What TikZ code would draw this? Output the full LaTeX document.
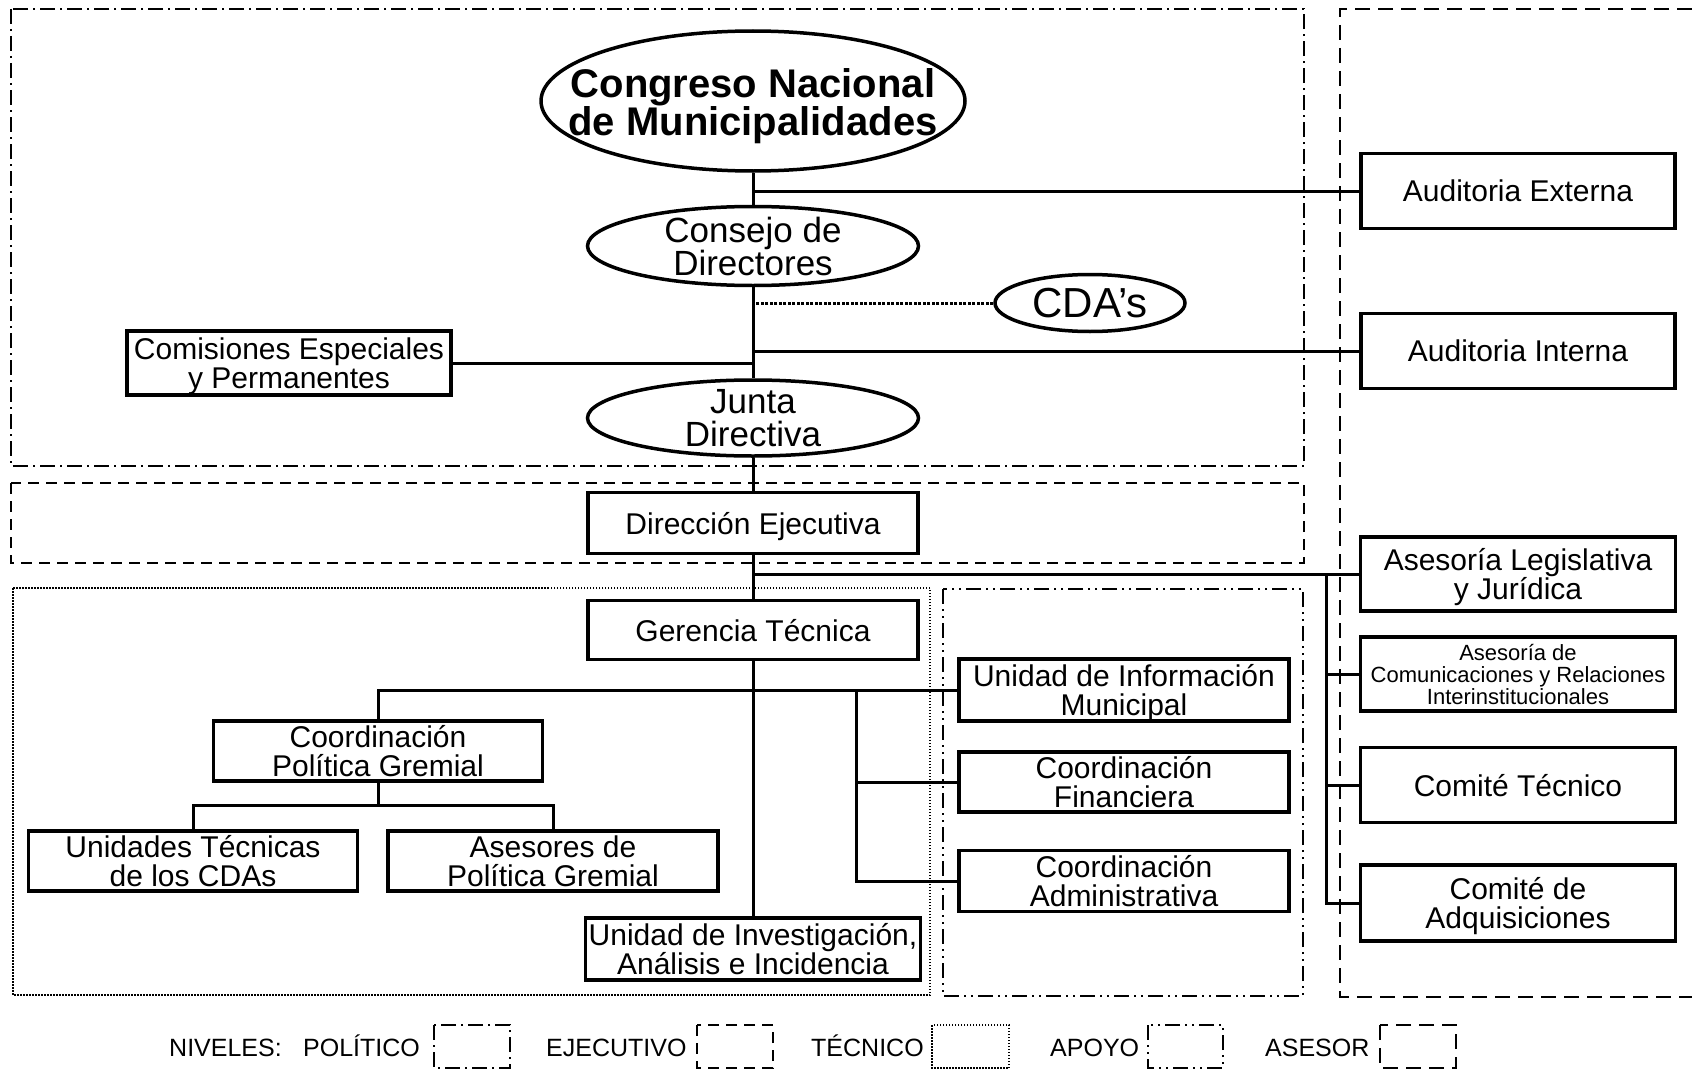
\documentclass[tikz,border=0pt]{standalone}
\usepackage{fontspec}
\setmainfont{Liberation Sans}
\usetikzlibrary{shapes.geometric}
\begin{document}
\begin{tikzpicture}[x=1pt,y=-1pt,
  obox/.style={draw, line width=3.5pt, rectangle, minimum width=330pt, minimum height=61pt, inner sep=0pt, align=center, text depth=0pt, font=\fontsize{30}{29}\selectfont},
  ell/.style={draw, line width=3.5pt, ellipse, inner sep=0pt},
  etext/.style={align=center, inner sep=0pt, font=\fontsize{35}{33}\selectfont},
  conn/.style={line width=3pt},
  polit/.style={line width=2pt, dash pattern=on 15pt off 5pt on 2pt off 5pt},
  ejec/.style={line width=2pt, dash pattern=on 11pt off 7pt},
  tecn/.style={line width=1.5pt, dash pattern=on 1.5pt off 1.5pt},
  apoy/.style={line width=2pt, dash pattern=on 15pt off 5pt on 2pt off 5pt on 2pt off 5pt},
  ases/.style={line width=2pt, dash pattern=on 15pt off 8pt},
  leg/.style={anchor=base west, inner sep=0pt, font=\fontsize{25}{25}\selectfont},
]
\useasboundingbox[fill=white] (0,0) rectangle (1692,1073);

% level regions
\draw[polit] (11,9) rectangle (1304,466);
\draw[ejec] (11,483) rectangle (1304,563);
\draw[tecn] (13,588) rectangle (930,995);
\draw[apoy] (943,589) rectangle (1303,996);
\draw[ases] (1692,9) -- (1340,9) -- (1340,997) -- (1692,997);

% ellipses
\node[ell, minimum width=424pt, minimum height=140pt] (cong) at (753,101) {};
\node[etext, font=\bfseries\fontsize{40}{38}\selectfont, yshift=-5pt] (congT) at (cong) {Congreso Nacional\\de Municipalidades};
\node[ell, minimum width=331pt, minimum height=79pt] (cons) at (753,246) {};
\node[etext] (consT) at (cons) {Consejo de\\Directores};
\node[ell, minimum width=190pt, minimum height=57pt] (cda) at (1090,303) {};
\node[etext, font=\fontsize{42}{42}\selectfont] (cdaT) at (cda) {CDA’s};
\node[ell, minimum width=331pt, minimum height=76pt] (junta) at (753,418) {};
\node[etext] (juntaT) at (junta) {Junta\\Directiva};

% boxes
\node[obox, minimum width=324pt, minimum height=64pt] (com) at (289,363) {Comisiones Especiales\\y Permanentes};
\node[obox, minimum width=314pt, minimum height=75pt] (audext) at (1518,191) {Auditoria Externa};
\node[obox, minimum width=314pt, minimum height=75pt] (audint) at (1518,351) {Auditoria Interna};
\node[obox] (dir) at (753,523) {Dirección Ejecutiva};
\node[obox, minimum height=59pt] (ger) at (753,630) {Gerencia Técnica};
\node[obox, minimum height=62pt] (uim) at (1124,690) {Unidad de Información\\Municipal};
\node[obox, minimum height=60pt] (cfin) at (1124,782) {Coordinación\\Financiera};
\node[obox] (cadm) at (1124,881) {Coordinación\\Administrativa};
\node[obox, minimum width=329pt, minimum height=60pt] (cpg) at (378,751) {Coordinación\\Política Gremial};
\node[obox, minimum width=329pt, minimum height=60pt] (utc) at (193,861) {Unidades Técnicas\\de los CDAs};
\node[obox, minimum height=60pt] (apg) at (553,861) {Asesores de\\Política Gremial};
\node[obox, minimum width=335pt, minimum height=62pt] (inv) at (753,949) {Unidad de Investigación,\\Análisis e Incidencia};
\node[obox, minimum width=315pt, minimum height=74pt] (asleg) at (1518,574) {Asesoría Legislativa\\y Jurídica};
\node[obox, minimum width=315pt, minimum height=74pt, font=\fontsize{22}{22}\selectfont] (ascom) at (1518,674) {Asesoría de\\Comunicaciones y Relaciones\\Interinstitucionales};
\node[obox, minimum width=315pt, minimum height=75pt] (ctec) at (1518,785) {Comité Técnico};
\node[obox, minimum width=315pt, minimum height=76pt] (cadq) at (1518,903) {Comité de\\Adquisiciones};

% trunk
\draw[conn] (cong.south) -- (cons.north);
\draw[conn] (cons.south) -- (junta.north);
\draw[conn] (junta.south) -- (dir.north);
\draw[conn] (dir.south) -- (ger.north);
\draw[conn] (ger.south) -- (inv.north);

% branches from trunk
\draw[conn] (audext.west) -- (audext.west -| cong.south);
\draw[conn] (audint.west) -- (audint.west -| cong.south);
\draw[conn] (com.east) -- (com.east -| cong.south);
\draw[line width=3pt, dash pattern=on 3pt off 1.5pt] (cda.west) -- (cda.west -| cong.south);

% asesor bus
\draw[conn] (asleg.west) -- (asleg.west -| dir.south);
\coordinate (busA) at (1326,574);
\draw[conn] (busA) |- (cadq.west);
\draw[conn] (ascom.west) -- (ascom.west -| busA);
\draw[conn] (ctec.west) -- (ctec.west -| busA);

% technical bus
\draw[conn] (uim.west) -- (uim.west -| cpg.north) -- (cpg.north);
\coordinate (busT) at (856,690);
\draw[conn] (busT) |- (cadm.west);
\draw[conn] (cfin.west) -- (cfin.west -| busT);
\coordinate (cpgj) at (378,805);
\draw[conn] (cpg.south) -- (cpgj);
\draw[conn] (utc.north) |- (cpgj) -| (apg.north);

% legend
\node[leg] (lgN) at (169,1056) {NIVELES:};
\node[leg] (lgP) at (303,1056) {POLÍTICO};
\draw[polit] (434,1025) rectangle (510,1068);
\node[leg] (lgE) at (546,1056) {EJECUTIVO};
\draw[ejec] (697,1025) rectangle (773,1068);
\node[leg] (lgT) at (811,1056) {TÉCNICO};
\draw[tecn] (932,1025) rectangle (1009,1068);
\node[leg] (lgA) at (1050,1056) {APOYO};
\draw[apoy] (1148,1025) rectangle (1223,1068);
\node[leg] (lgS) at (1265,1056) {ASESOR};
\draw[ases] (1380,1025) rectangle (1456,1068);
\end{tikzpicture}
\end{document}
